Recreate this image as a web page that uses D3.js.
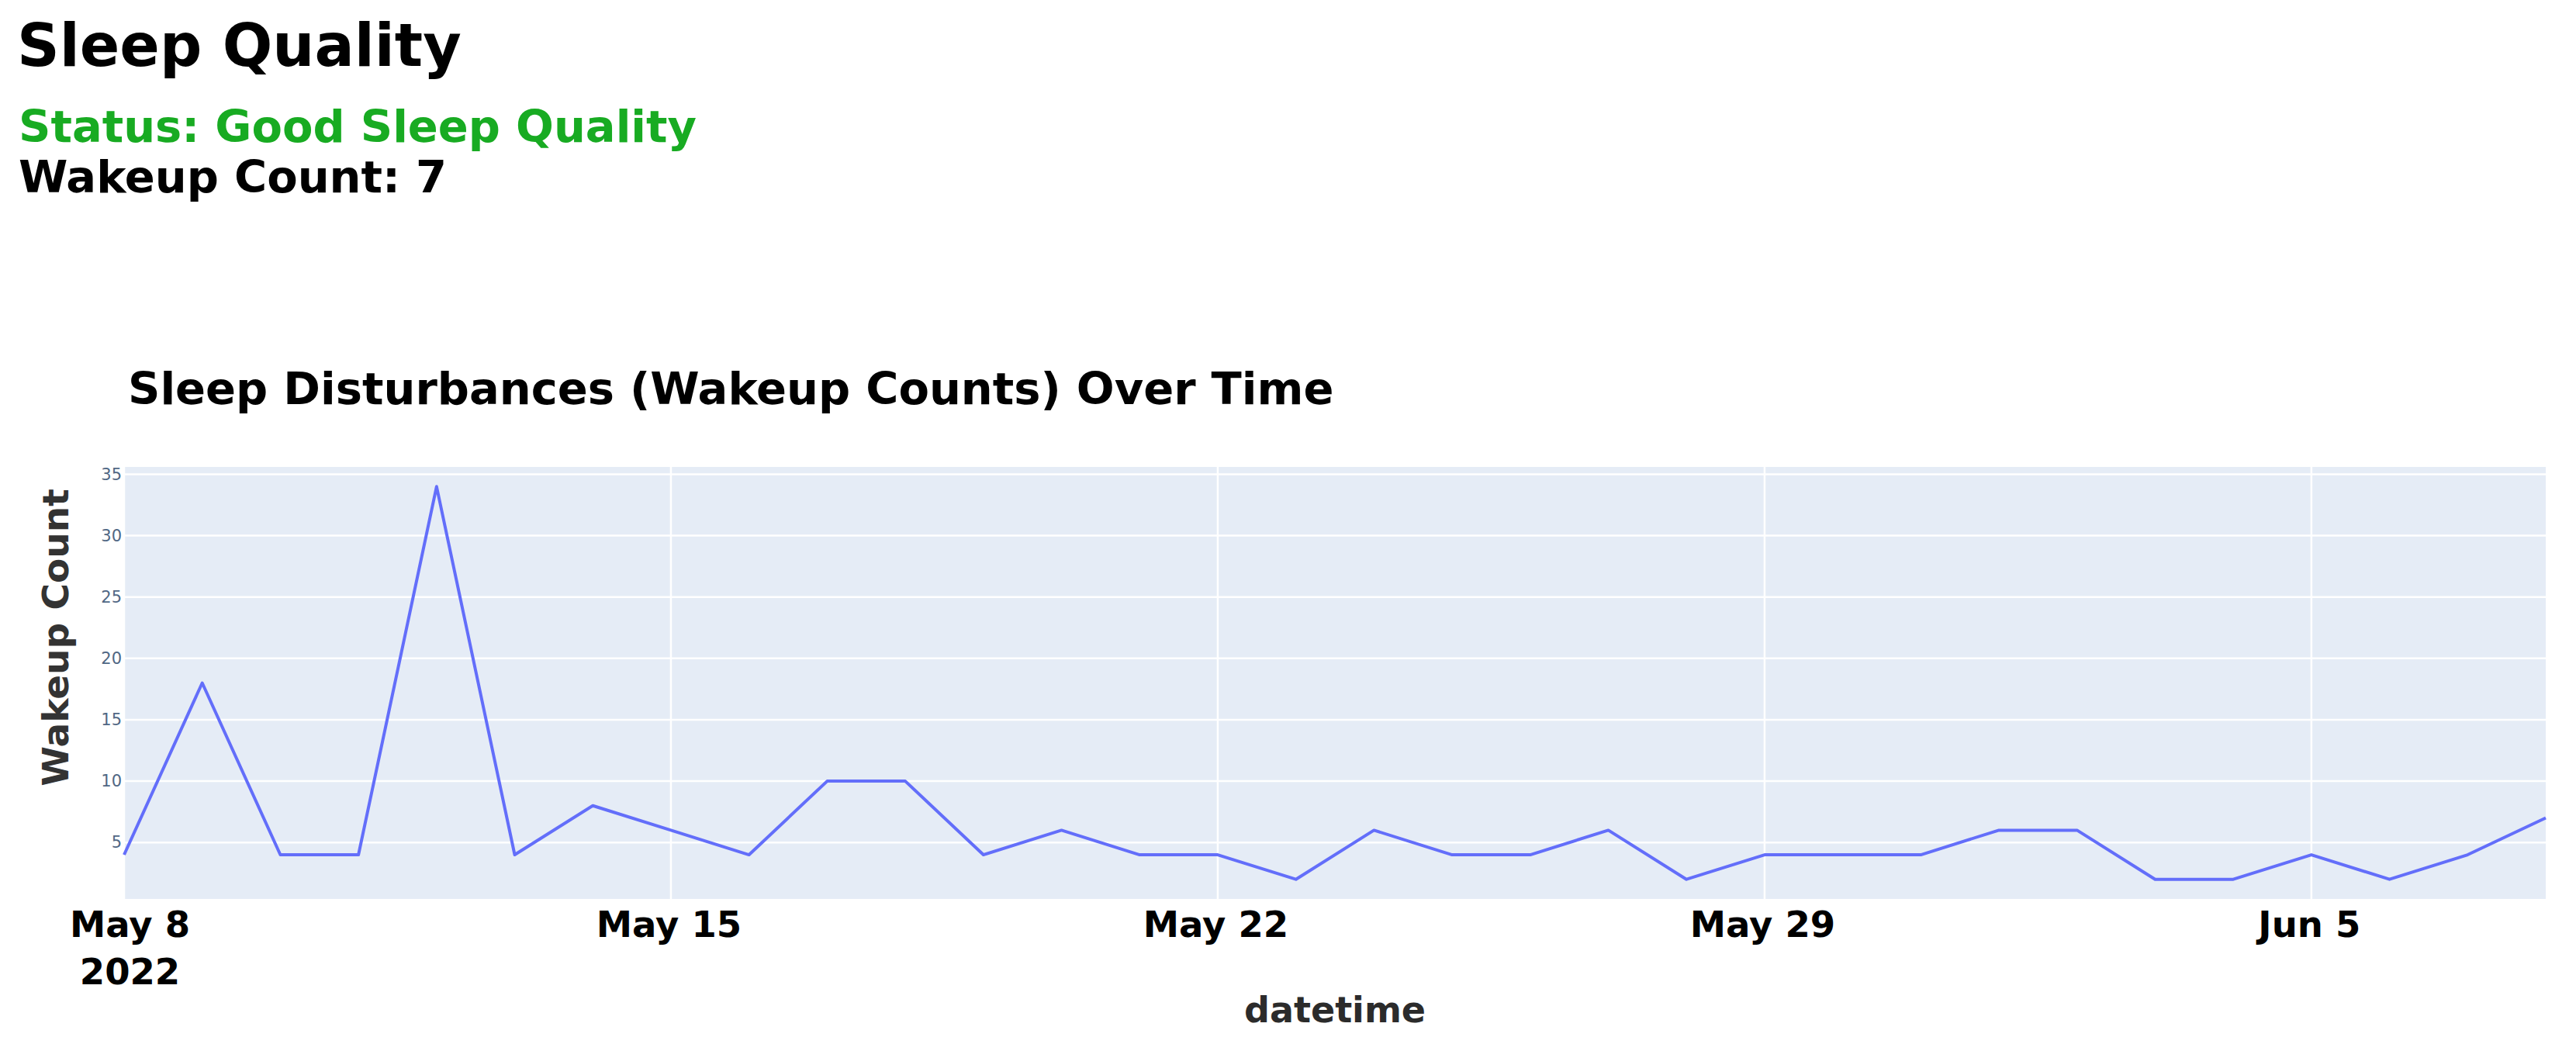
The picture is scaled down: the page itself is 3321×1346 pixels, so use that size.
<!DOCTYPE html>
<html lang="en">
<head>
    <meta charset="UTF-8">
    <title>Sleep Quality</title>
    <style>
        body { margin: 0; background: #fff; }
        text { font-family: "DejaVu Sans", Verdana, sans-serif; }
    </style>
</head>
<script src="https://cdn.jsdelivr.net/npm/d3@7"></script>
<body>
</body>
<script>
    // data
    var dates = [
        '2022-05-08', '2022-05-09', '2022-05-10', '2022-05-11', '2022-05-12', '2022-05-13',
        '2022-05-14', '2022-05-15', '2022-05-16', '2022-05-17', '2022-05-18', '2022-05-19',
        '2022-05-20', '2022-05-21', '2022-05-22', '2022-05-23', '2022-05-24', '2022-05-25',
        '2022-05-26', '2022-05-27', '2022-05-28', '2022-05-29', '2022-05-30', '2022-05-31',
        '2022-06-01', '2022-06-02', '2022-06-03', '2022-06-04', '2022-06-05', '2022-06-06',
        '2022-06-07', '2022-06-08'
    ]
    var wakeups = [4, 18, 4, 4, 34, 4, 8, 6, 4, 10, 10, 4, 6, 4, 4, 2, 6, 4, 4, 6, 2, 4, 4, 4, 6, 6, 2, 2, 4, 2, 4, 7]
    var xTicks = ['2022-05-08', '2022-05-15', '2022-05-22', '2022-05-29', '2022-06-05']
    var xTickLabels = [['May 8', '2022'], ['May 15'], ['May 22'], ['May 29'], ['Jun 5']]
    var yTicks = [5, 10, 15, 20, 25, 30, 35]
    var yRange = [0.4, 35.6]

    var width = 3321
        height = 1346
        plot = {left: 160, right: 3282, top: 602, bottom: 1159}
        parse = d3.timeParse('%Y-%m-%d')

    var data = dates.map((d, i) => ({date: parse(d), value: wakeups[i]}))

    var svg = d3.select('body')
        .append('svg')
        .attr('width', width)
        .attr('height', height)

    // header texts
    svg.append('text')
        .attr('x', 22).attr('y', 85)
        .attr('font-size', 76).attr('font-weight', 'bold')
        .attr('fill', '#000')
        .text('Sleep Quality')
    svg.append('text')
        .attr('x', 24).attr('y', 183)
        .attr('font-size', 57.5).attr('font-weight', 'bold')
        .attr('fill', '#18ab22')
        .text('Status: Good Sleep Quality')
    svg.append('text')
        .attr('x', 24).attr('y', 248)
        .attr('font-size', 57.5).attr('font-weight', 'bold')
        .attr('fill', '#000')
        .text('Wakeup Count: 7')

    var xScale = d3.scaleTime()
        .domain(d3.extent(data, d => d.date))
        .range([plot.left, plot.right])
    var yScale = d3.scaleLinear()
        .domain(yRange)
        .range([plot.bottom, plot.top])

    // plot background
    svg.append('rect')
        .attr('x', plot.left).attr('y', plot.top)
        .attr('width', plot.right - plot.left)
        .attr('height', plot.bottom - plot.top)
        .attr('fill', '#e5ecf6')

    // grid
    svg.append('g')
        .selectAll('line')
        .data(xTicks.map(parse))
        .enter()
        .append('line')
        .attr('x1', d => xScale(d)).attr('x2', d => xScale(d))
        .attr('y1', plot.top).attr('y2', plot.bottom)
        .attr('stroke', '#fff').attr('stroke-width', 2.5)
    svg.append('g')
        .selectAll('line')
        .data(yTicks)
        .enter()
        .append('line')
        .attr('x1', plot.left).attr('x2', plot.right)
        .attr('y1', d => yScale(d)).attr('y2', d => yScale(d))
        .attr('stroke', '#fff').attr('stroke-width', 2.5)

    // line
    var linePath = d3.line()
        .x(d => xScale(d.date))
        .y(d => yScale(d.value))
    svg.append('path')
        .datum(data)
        .attr('d', linePath)
        .attr('fill', 'none')
        .attr('stroke', '#636efa')
        .attr('stroke-width', 4)
        .attr('stroke-linejoin', 'round')

    // x axis
    var bottomAxis = d3.axisBottom(xScale)
        .tickValues(xTicks.map(parse))
        .tickSize(0)
        .tickFormat('')
    var gx = svg.append('g')
        .attr('transform', `translate(0, ${plot.bottom})`)
        .call(bottomAxis)
    gx.select('.domain').remove()
    gx.selectAll('.tick').each(function (d, i) {
        var t = d3.select(this).append('text')
            .attr('text-anchor', 'middle')
            .attr('fill', '#000')
            .attr('font-size', 46.5)
            .attr('font-weight', 'bold')
        xTickLabels[i].forEach((s, j) => {
            t.append('tspan')
                .attr('x', i == 0 ? 7 : -3)
                .attr('y', 49 + j * 61)
                .text(s)
        })
    })

    // y axis
    var leftAxis = d3.axisLeft(yScale)
        .tickValues(yTicks)
        .tickSize(0)
        .tickPadding(3)
    var gy = svg.append('g')
        .attr('transform', `translate(${plot.left}, 0)`)
        .call(leftAxis)
    gy.select('.domain').remove()
    gy.selectAll('text')
        .attr('font-family', '"DejaVu Sans Condensed", "DejaVu Sans", sans-serif')
        .attr('font-size', 21)
        .attr('fill', '#506784')

    // titles
    svg.append('text')
        .attr('x', 165).attr('y', 521)
        .attr('font-size', 57.5).attr('font-weight', 'bold')
        .attr('fill', '#000')
        .text('Sleep Disturbances (Wakeup Counts) Over Time')
    svg.append('text')
        .attr('x', (plot.left + plot.right) / 2).attr('y', 1318)
        .attr('text-anchor', 'middle')
        .attr('font-size', 46).attr('font-weight', 'bold')
        .attr('fill', '#2b2b2b')
        .text('datetime')
    svg.append('text')
        .attr('transform', 'translate(88, 822) rotate(-90)')
        .attr('text-anchor', 'middle')
        .attr('font-size', 47).attr('font-weight', 'bold')
        .attr('fill', '#333')
        .text('Wakeup Count')
</script>
</html>
